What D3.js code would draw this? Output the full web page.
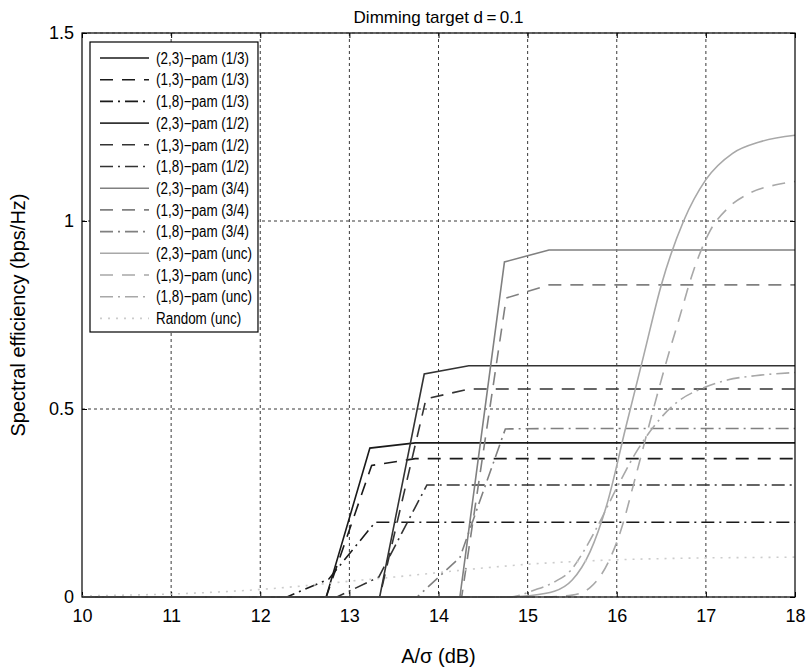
<!DOCTYPE html>
<html><head><meta charset="utf-8">
<script src="https://cdn.jsdelivr.net/npm/d3@7"></script>
<style>
body{margin:0;background:#fff;}
text{font-family:"Liberation Sans",Arial,Helvetica,sans-serif;}
</style></head>
<body><svg id="c" width="808" height="669"></svg>
<script>
// ---- data ----
const xTicks = [10, 11, 12, 13, 14, 15, 16, 17, 18];
const yTicks = [0, 0.5, 1, 1.5];
const seriesNames = [
  "(2,3)\u2212pam (1/3)", "(1,3)\u2212pam (1/3)", "(1,8)\u2212pam (1/3)",
  "(2,3)\u2212pam (1/2)", "(1,3)\u2212pam (1/2)", "(1,8)\u2212pam (1/2)",
  "(2,3)\u2212pam (3/4)", "(1,3)\u2212pam (3/4)", "(1,8)\u2212pam (3/4)",
  "(2,3)\u2212pam (unc)", "(1,3)\u2212pam (unc)", "(1,8)\u2212pam (unc)",
  "Random (unc)"
];
const pam23_r13 = [[10,0],[12.24,0],[12.74,0],[13.23,0.396],[13.74,0.41],[18,0.41]];
const pam13_r13 = [[10,0],[12.24,0],[12.74,0],[13.25,0.35],[13.74,0.368],[18,0.368]];
const pam18_r13 = [[10,0],[12.3,0],[12.77,0.048],[13.29,0.199],[13.74,0.199],[18,0.199]];
const pam23_r12 = [[10,0],[12.84,0],[13.34,0],[13.84,0.593],[14.34,0.615],[18,0.615]];
const pam13_r12 = [[10,0],[12.84,0],[13.34,0],[13.86,0.527],[14.34,0.553],[18,0.553]];
const pam18_r12 = [[10,0],[12.86,0],[13.33,0.053],[13.87,0.298],[14.34,0.298],[18,0.298]];
const pam23_r34 = [[10,0],[13.74,0],[14.24,0],[14.74,0.891],[15.24,0.923],[18,0.923]];
const pam13_r34 = [[10,0],[13.74,0],[14.26,0],[14.76,0.795],[15.24,0.83],[18,0.83]];
const pam18_r34 = [[10,0],[13.76,0],[14.24,0.105],[14.75,0.447],[15.24,0.448],[18,0.448]];
const pam23_unc = [[10,0],[14.8,0],[15.0,0.003],[15.3,0.015],[15.5,0.045],[15.7,0.12],[15.9,0.255],[16.1,0.45],[16.3,0.64],[16.5,0.83],[16.75,1.0],[17.0,1.11],[17.3,1.18],[17.6,1.21],[18,1.228]];
const pam13_unc = [[10,0],[15.2,0],[15.5,0.005],[15.7,0.025],[15.9,0.09],[16.05,0.18],[16.2,0.31],[16.4,0.49],[16.55,0.62],[16.7,0.74],[16.85,0.86],[17.05,0.975],[17.25,1.035],[17.5,1.075],[17.8,1.097],[18,1.105]];
const pam18_unc = [[10,0],[14.8,0],[15.07,0.018],[15.3,0.04],[15.48,0.07],[15.65,0.13],[15.78,0.186],[16.0,0.29],[16.23,0.39],[16.49,0.475],[16.71,0.524],[16.94,0.553],[17.24,0.577],[17.61,0.59],[18,0.597]];
const random_unc = [[10,0.003],[10.5,0.005],[11,0.008],[11.5,0.013],[12,0.02],[12.5,0.03],[13,0.042],[13.5,0.053],[14,0.065],[14.5,0.077],[15,0.087],[15.5,0.094],[16,0.099],[16.5,0.102],[17,0.104],[17.5,0.105],[18,0.106]];
const seriesData = [pam23_r13, pam13_r13, pam18_r13, pam23_r12, pam13_r12, pam18_r12,
  pam23_r34, pam13_r34, pam18_r34, pam23_unc, pam13_unc, pam18_unc, random_unc];

// ---- styles ----
const colors = ["#1a1a1a","#1a1a1a","#1a1a1a","#333333","#333333","#333333",
  "#808080","#808080","#808080","#a8a8a8","#a8a8a8","#a8a8a8","#cccccc"];
const dashes = ["none","13,9","13,5,2,5","none","13,9","13,5,2,5",
  "none","13,9","13,5,2,5","none","13,9","13,5,2,5","2,6"];
const smooth = [false,false,false,false,false,false,false,false,false,true,true,true,true];

const svg = d3.select("#c");
const L = 82, R = 795, T = 33, B = 597;
const x = d3.scaleLinear().domain([10, 18]).range([L, R]);
const y = d3.scaleLinear().domain([0, 1.5]).range([B, T]);

// grid
const g = svg.append("g");
g.selectAll(".vg").data(xTicks.slice(1, -1)).join("line")
  .attr("x1", d => x(d)).attr("x2", d => x(d)).attr("y1", T).attr("y2", B)
  .attr("stroke", "#222").attr("stroke-width", 0.9).attr("stroke-dasharray", "3,3");
g.selectAll(".hg").data(yTicks).join("line")
  .attr("x1", L).attr("x2", R).attr("y1", d => y(d)).attr("y2", d => y(d))
  .attr("stroke", d => (d === 0 || d === 1.5) ? "#888" : "#222")
  .attr("stroke-width", 0.9).attr("stroke-dasharray", "3,3");

// axes (ticks inward, all four sides)
const axB = d3.axisBottom(x).tickValues(xTicks).tickSize(-5).tickPadding(12).tickFormat(d3.format("d"));
const axL = d3.axisLeft(y).tickValues(yTicks).tickSize(-5).tickPadding(8).tickFormat(d => d3.format("")(d));
const axT = d3.axisTop(x).tickValues(xTicks).tickSize(-5).tickFormat("");
const axR = d3.axisRight(y).tickValues(yTicks).tickSize(-5).tickFormat("");
function styleAxis(sel) {
  sel.select(".domain").remove();
  sel.selectAll("line").attr("stroke", "#000");
  sel.selectAll("text").attr("font-size", 18).attr("fill", "#000")
    .attr("font-family", "'Liberation Sans',Arial,sans-serif");
}
svg.append("g").attr("transform", `translate(0,${B})`).call(axB).call(styleAxis);
svg.append("g").attr("transform", `translate(${L},0)`).call(axL).call(styleAxis);
svg.append("g").attr("transform", `translate(0,${T})`).call(axT).call(styleAxis);
svg.append("g").attr("transform", `translate(${R},0)`).call(axR).call(styleAxis);

// lines
const lineLin = d3.line().x(d => x(d[0])).y(d => y(d[1]));
const lineSm = d3.line().x(d => x(d[0])).y(d => y(d[1])).curve(d3.curveMonotoneX);
const lg = svg.append("g");
seriesData.forEach((s, i) => {
  lg.append("path").datum(s)
    .attr("d", smooth[i] ? lineSm : lineLin)
    .attr("fill", "none").attr("stroke", colors[i]).attr("stroke-width", 1.6)
    .attr("stroke-dasharray", dashes[i] === "none" ? null : dashes[i]);
});

// frame
svg.append("rect").attr("x", L).attr("y", T).attr("width", R - L).attr("height", B - T)
  .attr("fill", "none").attr("stroke", "#000").attr("stroke-width", 1.2);

// legend
const legX = 90, legY = 42, rowH = 21.7;
const leg = svg.append("g");
const legBox = leg.append("rect").attr("x", legX).attr("y", legY).attr("height", 290)
  .attr("fill", "#fff").attr("stroke", "#000").attr("stroke-width", 1.2);
let maxW = 0;
const squeeze = 0.84;
seriesNames.forEach((nm, i) => {
  const cy = legY + 13 + i * rowH + 3;
  leg.append("line").attr("x1", 100).attr("x2", 149).attr("y1", cy).attr("y2", cy)
    .attr("stroke", colors[i]).attr("stroke-width", 1.6)
    .attr("stroke-dasharray", dashes[i] === "none" ? null : dashes[i]);
  const t = leg.append("text").attr("x", 156).attr("y", cy).attr("dy", "0.36em")
    .attr("font-size", 16).attr("fill", "#000").text(nm);
  const w = t.node().getComputedTextLength() * squeeze;
  t.attr("textLength", w).attr("lengthAdjust", "spacingAndGlyphs");
  maxW = Math.max(maxW, w);
});
legBox.attr("width", 156 + maxW + 6 - legX);

// titles
svg.append("text").attr("x", (L + R) / 2).attr("y", 23).attr("text-anchor", "middle")
  .attr("font-size", 17).text("Dimming target d\u2009=\u20090.1");
svg.append("text").attr("x", (L + R) / 2).attr("y", 663).attr("text-anchor", "middle")
  .attr("font-size", 20).text("A/\u03c3 (dB)");
svg.append("text").attr("transform", `translate(25,${(T + B) / 2}) rotate(-90)`)
  .attr("text-anchor", "middle").attr("font-size", 20).text("Spectral efficiency (bps/Hz)");
</script></body></html>
